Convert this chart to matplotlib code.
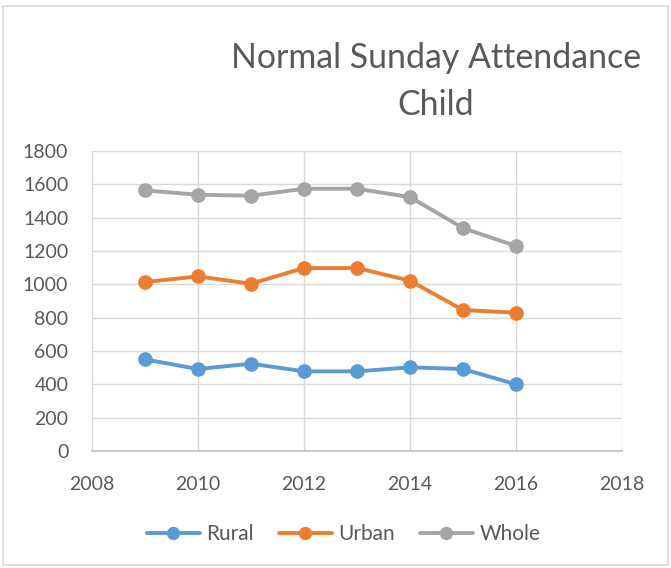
import matplotlib
matplotlib.use("Agg")
import matplotlib.pyplot as plt
from matplotlib.patches import Rectangle

# data
years = [2009, 2010, 2011, 2012, 2013, 2014, 2015, 2016]
rural = [550, 492, 524, 478, 478, 502, 492, 400]
urban = [1014, 1048, 1004, 1098, 1098, 1022, 846, 830]
whole = [1564, 1538, 1532, 1574, 1574, 1524, 1338, 1230]

series_names = ["Rural", "Urban", "Whole"]
colors = ["#5B9BD5", "#ED7D31", "#A5A5A5"]
xticks = [2008, 2010, 2012, 2014, 2016, 2018]
yticks = list(range(0, 1801, 200))

plt.rcParams['font.family'] = ['Lato', 'DejaVu Sans']
text_color = "#595959"

fig = plt.figure(figsize=(6.71, 5.68), dpi=100)
ax = fig.add_axes([0.137, 0.206, 0.79, 0.528])

for vals, name, c in zip([rural, urban, whole], series_names, colors):
    ax.plot(years, vals, color=c, lw=2.8, marker='o', markersize=9.5,
            label=name, solid_capstyle='round')

ax.set_xlim(2008, 2018)
ax.set_ylim(0, 1800)
ax.set_xticks(xticks)
ax.set_yticks(yticks)
ax.grid(True, color="#D9D9D9", lw=1)
ax.set_axisbelow(True)
for side in ['top', 'right', 'left']:
    ax.spines[side].set_visible(False)
ax.spines['bottom'].set_color("#BFBFBF")
ax.spines['bottom'].set_linewidth(1.2)
ax.tick_params(axis='both', length=0, labelsize=14, colors=text_color)
ax.tick_params(axis='x', pad=18)
ax.tick_params(axis='y', pad=17)

fig.text(0.65, 0.898, "Normal Sunday Attendance", ha='center', va='center',
         fontsize=24.4, color=text_color)
fig.text(0.65, 0.815, "Child", ha='center', va='center',
         fontsize=24.4, color=text_color)

leg = fig.legend(loc='center', bbox_to_anchor=(0.512, 0.06), ncol=3, frameon=False,
                 fontsize=15, handlelength=2.55, columnspacing=1.2, handletextpad=0.3,
                 markerscale=0.9)
for t in leg.get_texts():
    t.set_color(text_color)

fig.patches.append(Rectangle((0.005, 0.005), 0.99, 0.985, transform=fig.transFigure,
                             fill=False, edgecolor="#D9D9D9", lw=1.2))

fig.savefig("out.png", dpi=100)
